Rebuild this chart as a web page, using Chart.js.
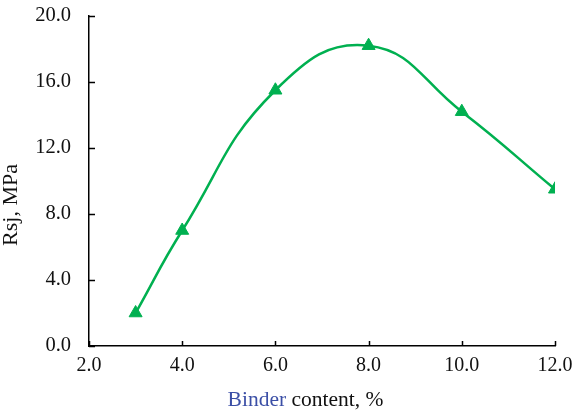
<!DOCTYPE html>
<html>
<head>
<meta charset="utf-8">
<script src="https://cdn.jsdelivr.net/npm/chart.js@4/dist/chart.umd.min.js"></script>
<style>
html,body{margin:0;padding:0;background:#fff;}
#c{display:block;}
</style>
</head>
<body>
<canvas id="c" width="580" height="415"></canvas>
<script>
const binderContent = [3, 4, 6, 8, 10, 12];
const rsjValues = [2.0, 7.0, 15.5, 18.2, 14.2, 9.5];
const xTicks = [2, 4, 6, 8, 10, 12];
const yTicks = [0, 4, 8, 12, 16, 20];
const yTitle = "Rsj, MPa";
const xTitleParts = [["Binder", "#3B4FA6"], [" content, %", "#111111"]];

const FONT = '"Liberation Serif", "Times New Roman", serif';
const PLOT = {left: 89, right: 555, top: 16, bottom: 346};

const titlesAndTicks = {
  id: 'titlesAndTicks',
  afterDraw(chart) {
    const ctx = chart.ctx;
    const xs = chart.scales.x, ys = chart.scales.y;
    ctx.save();
    ctx.strokeStyle = '#000';
    ctx.lineWidth = 1.5;
    ctx.beginPath();
    xs.ticks.forEach(t => {
      const px = Math.round(xs.getPixelForValue(t.value)) + 0.5;
      ctx.moveTo(px, ys.bottom);
      ctx.lineTo(px, ys.bottom - 5);
    });
    ys.ticks.forEach(t => {
      const py = Math.round(ys.getPixelForValue(t.value)) + 0.5;
      ctx.moveTo(xs.left, py);
      ctx.lineTo(xs.left + 6, py);
    });
    ctx.stroke();

    // x title (mixed colors)
    ctx.font = '21.5px ' + FONT;
    ctx.textBaseline = 'alphabetic';
    ctx.textAlign = 'left';
    const total = xTitleParts.reduce((s, p) => s + ctx.measureText(p[0]).width, 0);
    let x = 305.5 - total / 2;
    xTitleParts.forEach(p => {
      ctx.fillStyle = p[1];
      ctx.fillText(p[0], x, 406);
      x += ctx.measureText(p[0]).width;
    });

    // y title
    ctx.translate(11, 205);
    ctx.rotate(-Math.PI / 2);
    ctx.textAlign = 'center';
    ctx.textBaseline = 'middle';
    ctx.fillStyle = '#111';
    ctx.font = '22px ' + FONT;
    ctx.fillText(yTitle, 0, 0);
    ctx.restore();
  }
};

new Chart(document.getElementById('c'), {
  type: 'line',
  data: {
    datasets: [{
      data: binderContent.map((x, i) => ({x: x, y: rsjValues[i]})),
      borderColor: '#00B050',
      backgroundColor: '#00B050',
      borderWidth: 2.5,
      tension: 0.45,
      pointStyle: 'triangle',
      pointRadius: 7.5,
      pointHoverRadius: 7.5,
      pointBorderWidth: 1,
      fill: false
    }]
  },
  options: {
    responsive: false,
    animation: false,
    events: [],
    layout: {padding: {left: 0, right: 580 - PLOT.right, top: PLOT.top, bottom: 0}},
    plugins: {legend: {display: false}, tooltip: {enabled: false}},
    scales: {
      x: {
        type: 'linear',
        min: 2, max: 12,
        afterBuildTicks(s) { s.ticks = xTicks.map(v => ({value: v})); },
        afterFit(s) { s.height = 415 - PLOT.bottom; s.paddingLeft = 0; s.paddingRight = 0; },
        ticks: {
          callback: v => Number(v).toFixed(1),
          color: '#111',
          font: {family: FONT, size: 20},
          padding: 8,
          maxRotation: 0,
          autoSkip: false
        },
        grid: {drawOnChartArea: false, drawTicks: false},
        border: {color: '#000', width: 1.5}
      },
      y: {
        min: 0, max: 20,
        afterBuildTicks(s) { s.ticks = yTicks.map(v => ({value: v})); },
        afterFit(s) { s.width = PLOT.left; s.paddingTop = 0; s.paddingBottom = 0; },
        ticks: {
          callback: v => Number(v).toFixed(1),
          color: '#111',
          font: {family: FONT, size: 20.5},
          padding: 18
        },
        grid: {drawOnChartArea: false, drawTicks: false},
        border: {color: '#000', width: 1.5}
      }
    }
  },
  plugins: [titlesAndTicks]
});
</script>
</body>
</html>
